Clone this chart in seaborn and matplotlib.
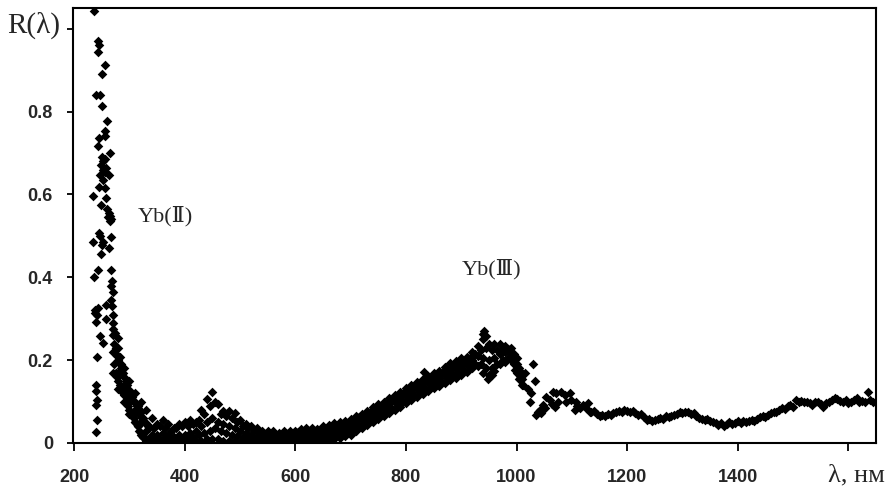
import numpy as np
import pandas as pd
import matplotlib.pyplot as plt
import seaborn as sns

# Yb(II) peak: scattered points in the UV
uv_x = [235.6, 243, 245, 243, 255, 250.5, 239, 246, 250.5, 259.5, 256.6, 255, 245, 243, 264,
        250, 253, 256, 249, 258, 252, 255, 246, 262.5, 252, 245, 255, 235, 258, 248, 260,
        263, 265, 261, 267, 264, 245, 234, 252, 266, 262.5, 248, 243, 267.5, 236, 268.5,
        270, 267.5, 258, 237, 241.5, 239, 258, 270, 270, 271, 273, 246, 252, 279, 279,
        241.5, 282.5, 239, 240, 241.5, 239, 241.5, 240, 247, 251, 238, 244, 266, 269]
uv_r = [1.043, 0.971, 0.960, 0.943, 0.913, 0.890, 0.839, 0.841, 0.814, 0.778, 0.754, 0.742, 0.737,
        0.716, 0.701, 0.690, 0.680, 0.685, 0.670, 0.665, 0.660, 0.655, 0.647, 0.646, 0.635, 0.619,
        0.616, 0.597, 0.591, 0.575, 0.565, 0.555, 0.548, 0.545, 0.540, 0.537, 0.508, 0.486, 0.486,
        0.498, 0.470, 0.456, 0.418, 0.418, 0.400, 0.391, 0.364, 0.345, 0.333, 0.321, 0.309, 0.293,
        0.300, 0.310, 0.290, 0.275, 0.265, 0.258, 0.241, 0.253, 0.229, 0.208, 0.208, 0.140, 0.126,
        0.104, 0.092, 0.056, 0.027, 0.500, 0.478, 0.315, 0.326, 0.380, 0.330]

# fall-off of the UV peak (dense cloud)
decay_x = [272, 275, 277, 280, 283, 285, 288, 290, 293, 295, 298, 300, 303,
           305, 308, 310, 313, 315, 318, 320, 323, 325, 328, 330, 333, 335]
decay_hi = [0.24, 0.23, 0.21, 0.20, 0.19, 0.18, 0.17, 0.16, 0.15, 0.14, 0.13, 0.125, 0.12,
            0.11, 0.10, 0.10, 0.09, 0.085, 0.07, 0.075, 0.06, 0.055, 0.05, 0.045, 0.04, 0.035]
decay_lo = [0.19, 0.17, 0.16, 0.15, 0.14, 0.13, 0.12, 0.115, 0.10, 0.095, 0.09, 0.08, 0.075,
            0.065, 0.06, 0.05, 0.045, 0.04, 0.03, 0.025, 0.02, 0.015, 0.012, 0.01, 0.008, 0.005]

# main band: lower / middle / upper edge of the point cloud
band_x = [270, 280, 290, 300, 310, 320, 330, 340, 350, 360, 370, 380, 390, 400, 410, 420,
          430, 440, 450, 460, 470, 480, 490, 500, 510, 520, 530, 540, 550, 560, 570, 580,
          590, 600, 610, 620, 630, 640, 650, 660, 670, 680, 690, 700, 710, 720, 730, 740,
          750, 760, 770, 780, 790, 800, 810, 820, 830, 840, 850, 860, 870, 880, 890, 900,
          910, 920, 930, 940, 950, 960, 970, 980, 990, 1000, 1010]
band_lo = [0.17, 0.13, 0.10, 0.07, 0.05, 0.02, 0.005, 0.003, 0.002, 0.003, 0.002, 0.002, 0.003,
           0.002, 0.003, 0.005, 0.005, 0.01, 0.01, 0.01, 0.005, 0.005, 0.005, 0.003, 0.003, 0.002,
           0.002, 0.002, 0.002, 0.002, 0.002, 0.002, 0.003, 0.003, 0.003, 0.003, 0.005, 0.003,
           0.005, 0.005, 0.010, 0.012, 0.016, 0.020, 0.028, 0.035, 0.043, 0.050, 0.057, 0.064,
           0.072, 0.080, 0.088, 0.096, 0.104, 0.112, 0.118, 0.126, 0.132, 0.138, 0.145, 0.152,
           0.158, 0.165, 0.172, 0.180, 0.185, 0.170, 0.165, 0.175, 0.190, 0.195, 0.200, 0.170, 0.140]
band_mid = [0.22, 0.17, 0.14, 0.11, 0.08, 0.05, 0.03, 0.02, 0.02, 0.025, 0.02, 0.015, 0.02,
            0.02, 0.025, 0.03, 0.04, 0.05, 0.06, 0.05, 0.045, 0.04, 0.035, 0.03, 0.025, 0.02,
            0.015, 0.015, 0.012, 0.012, 0.010, 0.012, 0.015, 0.015, 0.018, 0.020, 0.020, 0.020,
            0.022, 0.025, 0.030, 0.033, 0.036, 0.040, 0.048, 0.055, 0.060, 0.068, 0.076, 0.082,
            0.090, 0.098, 0.106, 0.114, 0.122, 0.130, 0.136, 0.144, 0.150, 0.156, 0.163, 0.172,
            0.178, 0.185, 0.190, 0.200, 0.210, 0.205, 0.200, 0.205, 0.215, 0.220, 0.215, 0.190, 0.155]
band_hi = [0.26, 0.21, 0.18, 0.15, 0.12, 0.10, 0.08, 0.06, 0.045, 0.055, 0.045, 0.035, 0.045,
           0.05, 0.055, 0.05, 0.08, 0.105, 0.124, 0.095, 0.078, 0.078, 0.073, 0.055, 0.045, 0.04,
           0.035, 0.03, 0.03, 0.03, 0.025, 0.03, 0.03, 0.03, 0.034, 0.036, 0.036, 0.033,
           0.040, 0.043, 0.048, 0.050, 0.054, 0.058, 0.064, 0.070, 0.078, 0.086, 0.094, 0.100,
           0.108, 0.116, 0.124, 0.132, 0.140, 0.148, 0.155, 0.162, 0.168, 0.175, 0.183, 0.192,
           0.198, 0.204, 0.208, 0.220, 0.235, 0.250, 0.240, 0.240, 0.240, 0.235, 0.230, 0.205, 0.170]

# same cloud, readings taken half-way between the grid above
band2_x = [275, 285, 295, 305, 315, 325, 335, 345, 355, 365, 375, 385, 395, 405, 415, 425,
           435, 445, 455, 465, 475, 485, 495, 505, 515, 525, 535, 545, 555, 565, 575, 585,
           595, 605, 615, 625, 635, 645, 655, 665, 675, 685, 695, 705, 715, 725, 735, 745,
           755, 765, 775, 785, 795, 805, 815, 825, 835, 845, 855, 865, 875, 885, 895, 905,
           915, 925, 935, 945, 955, 965, 975, 985, 995, 1005]
band2_a = [0.17, 0.13, 0.10, 0.07, 0.04, 0.015, 0.01, 0.008, 0.01, 0.012, 0.008, 0.01, 0.01,
           0.012, 0.015, 0.02, 0.025, 0.03, 0.035, 0.03, 0.025, 0.02, 0.018, 0.015, 0.012, 0.01,
           0.008, 0.008, 0.007, 0.007, 0.006, 0.008, 0.01, 0.01, 0.012, 0.012, 0.012, 0.013,
           0.015, 0.018, 0.022, 0.025, 0.028, 0.034, 0.042, 0.048, 0.055, 0.062, 0.068, 0.075,
           0.083, 0.090, 0.100, 0.108, 0.116, 0.122, 0.130, 0.135, 0.142, 0.148, 0.156, 0.163,
           0.170, 0.176, 0.183, 0.190, 0.190, 0.180, 0.180, 0.190, 0.200, 0.205, 0.190, 0.155]
band2_b = [0.23, 0.19, 0.15, 0.12, 0.09, 0.06, 0.04, 0.035, 0.04, 0.035, 0.03, 0.035, 0.04,
           0.04, 0.045, 0.055, 0.07, 0.09, 0.10, 0.07, 0.065, 0.06, 0.05, 0.04, 0.035, 0.03,
           0.025, 0.022, 0.022, 0.02, 0.02, 0.022, 0.024, 0.026, 0.028, 0.03, 0.03, 0.03,
           0.034, 0.038, 0.042, 0.045, 0.048, 0.054, 0.062, 0.066, 0.074, 0.082, 0.088, 0.094,
           0.102, 0.110, 0.120, 0.128, 0.135, 0.142, 0.150, 0.155, 0.162, 0.168, 0.176, 0.183,
           0.190, 0.196, 0.205, 0.215, 0.225, 0.230, 0.225, 0.225, 0.228, 0.228, 0.215, 0.180]

# Yb(III) maximum outliers and the broken fall-off after 1000 nm
peak_x = [942, 945, 940, 832, 948, 955, 997, 1006, 1012, 1015, 1020, 1024, 1027, 1030, 1033,
          1036, 1038, 1042, 1045, 1048, 1052, 1054, 1060, 1064, 1066, 1070, 1072, 1075, 1081,
          1087, 1090, 1096, 1099, 1105, 1108, 1110, 1114, 1120, 1125, 1129, 1132]
peak_r = [0.271, 0.258, 0.262, 0.172, 0.155, 0.164, 0.176, 0.156, 0.140, 0.168, 0.130, 0.100,
          0.121, 0.191, 0.150, 0.068, 0.075, 0.080, 0.072, 0.092, 0.085, 0.112, 0.104, 0.095,
          0.124, 0.088, 0.120, 0.100, 0.124, 0.116, 0.100, 0.120, 0.104, 0.080, 0.100, 0.090,
          0.084, 0.092, 0.085, 0.096, 0.076]

# IR tail
tail_x = [1135, 1140, 1145, 1150, 1155, 1160, 1165, 1170, 1175, 1180, 1185, 1190, 1195, 1200,
          1205, 1210, 1215, 1220, 1225, 1230, 1235, 1240, 1245, 1250, 1255, 1260, 1265, 1270,
          1275, 1280, 1285, 1290, 1295, 1300, 1305, 1310, 1315, 1320, 1325, 1330, 1335, 1340,
          1345, 1350, 1355, 1360, 1365, 1370, 1375, 1380, 1385, 1390, 1395, 1400, 1405, 1410,
          1415, 1420, 1425, 1430, 1435, 1440, 1445, 1450, 1455, 1460, 1465, 1470, 1475, 1480,
          1485, 1490, 1495, 1500, 1505, 1510, 1515, 1520, 1525, 1530, 1535, 1540, 1545, 1550,
          1555, 1560, 1565, 1570, 1575, 1580, 1585, 1590, 1595, 1600, 1605, 1610, 1615, 1620,
          1625, 1630, 1635, 1640, 1645]
tail_r = [0.074, 0.078, 0.070, 0.064, 0.068, 0.066, 0.070, 0.068, 0.072, 0.074, 0.078, 0.074,
          0.080, 0.078, 0.074, 0.078, 0.072, 0.068, 0.070, 0.062, 0.056, 0.058, 0.052, 0.056,
          0.058, 0.060, 0.058, 0.064, 0.062, 0.066, 0.068, 0.070, 0.074, 0.072, 0.076, 0.074,
          0.070, 0.072, 0.064, 0.060, 0.058, 0.056, 0.058, 0.054, 0.050, 0.048, 0.044, 0.048,
          0.042, 0.046, 0.050, 0.046, 0.048, 0.052, 0.048, 0.052, 0.050, 0.054, 0.056, 0.054,
          0.058, 0.062, 0.064, 0.062, 0.068, 0.072, 0.076, 0.074, 0.080, 0.084, 0.082, 0.090,
          0.092, 0.088, 0.104, 0.098, 0.102, 0.100, 0.098, 0.096, 0.092, 0.100, 0.098, 0.094,
          0.088, 0.096, 0.100, 0.104, 0.108, 0.106, 0.102, 0.100, 0.104, 0.096, 0.100, 0.104,
          0.108, 0.100, 0.102, 0.098, 0.122, 0.104, 0.100]

x_ticks = [200, 400, 600, 800, 1000, 1200, 1400, 1600]
x_labels = ["200", "400", "600", "800", "1000", "1200", "1400", ""]
y_ticks = [0, 0.2, 0.4, 0.6, 0.8, 1.0]
y_labels = ["0", "0.2", "0.4", "0.6", "0.8", ""]

parts = [
    (uv_x, uv_r),
    (decay_x, decay_hi), (decay_x, decay_lo),
    (band_x, band_lo), (band_x, band_mid), (band_x, band_hi),
    (band2_x, band2_a), (band2_x, band2_b),
    (peak_x, peak_r),
    (tail_x, tail_r),
]
df = pd.concat([pd.DataFrame({"wl": x, "R": r}) for x, r in parts], ignore_index=True)

sns.set_style("ticks")
plt.rcParams["font.family"] = ["Liberation Sans", "DejaVu Sans"]
serif = ["Liberation Serif", "DejaVu Serif"]

fig = plt.figure(figsize=(8.95, 4.92), dpi=100)
ax = fig.add_axes([0.0816, 0.0996, 0.8972, 0.8841])

sns.scatterplot(data=df, x="wl", y="R", marker="D", s=24, color="black",
                linewidth=0, ax=ax, legend=False)

ax.set_xlim(198, 1650)
ax.set_ylim(0, 1.05)
ax.set_xticks(x_ticks)
ax.set_xticklabels(x_labels, fontsize=13, fontweight="bold")
ax.set_yticks(y_ticks)
ax.set_yticklabels(y_labels, fontsize=13, fontweight="bold")
ax.set_xlabel("")
ax.set_ylabel("")
ax.tick_params(axis="x", length=6, width=1.3, pad=13, color="black")
ax.tick_params(axis="y", length=4.5, width=1.3, pad=10, color="black")
for sp in ax.spines.values():
    sp.set_linewidth(1.5)
    sp.set_color("black")

ax.text(315, 0.534, "Yb(Ⅱ)", family=serif, fontsize=16, va="baseline", ha="left")
ax.text(900, 0.406, "Yb(Ⅲ)", family=serif, fontsize=16, va="baseline", ha="left")
fig.text(7 / 895, 1 - 25 / 492, "R(λ)", family=serif, fontsize=21, va="center", ha="left")
fig.text(828 / 895, 1 - 481 / 492, "λ, нм", family=serif, fontsize=19, va="baseline", ha="left")

fig.savefig("out.png", dpi=100)
